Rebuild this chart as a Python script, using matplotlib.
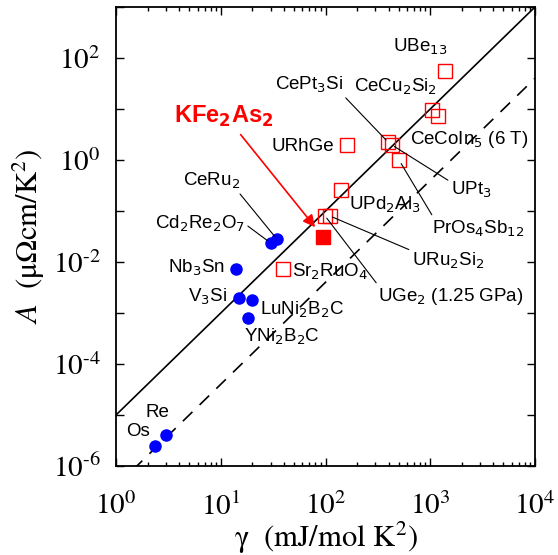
import numpy as np
import matplotlib
matplotlib.use('Agg')
import matplotlib.pyplot as plt
from matplotlib.ticker import LogLocator, FuncFormatter, NullLocator, NullFormatter

plt.rcParams['mathtext.fontset'] = 'stix'
plt.rcParams['font.family'] = 'STIXGeneral'

# --- data (gamma in mJ/mol K^2, A in uOhm cm/K^2) ---
circle_names = ['Os', 'Re', r'V$_3$Si', r'LuNi$_2$B$_2$C', r'YNi$_2$B$_2$C',
                r'Nb$_3$Sn', r'Cd$_2$Re$_2$O$_7$', r'CeRu$_2$']
circle_gamma = [2.36, 3.0, 14.9, 19.9, 18.2, 14.0, 30.0, 34.4]
circle_A = [2.5e-6, 4.1e-6, 2.0e-3, 1.8e-3, 8.0e-4, 7.3e-3, 0.0235, 0.028]

square_names = [r'Sr$_2$RuO$_4$', r'UGe$_2$ (1.25 GPa)', r'URu$_2$Si$_2$',
                r'UPd$_2$Al$_3$', 'URhGe', r'CePt$_3$Si', r'UPt$_3$',
                r'PrOs$_4$Sb$_{12}$', r'CeCu$_2$Si$_2$', r'CeCoIn$_5$ (6 T)',
                r'UBe$_{13}$']
square_gamma = [39, 99, 110, 141, 160, 395, 431, 503, 1040, 1186, 1384]
square_A = [0.0073, 0.08, 0.08, 0.26, 1.97, 2.25, 1.97, 1.0, 9.6, 7.3, 55.6]

kfe_gamma = 94.6
kfe_A = 0.031

# Kadowaki-Woods ratios
kw_solid = 1.0e-5
kw_dashed = 0.4e-6

# label placement (data coords) and leader lines: (relpos, shrinkB) or None
circle_text = [(1.62, 4.7e-6), (2.46, 1.1e-5), (7.39, 2.06e-3), (59.7, 1.15e-3),
               (38.4, 3.4e-4), (5.8, 7.6e-3), (6.34, 0.0556), (8.25, 0.387)]
circle_lead = [None, None, None, None, None, None, ((1.0, 0.5), 3), ((0.95, 0.0), 3)]

square_text = [(110, 0.0064), (1578, 0.00215), (1476, 0.0105), (370, 0.131),
               (61, 1.88), (69.6, 29.6), (2449, 0.258), (2858, 0.0444),
               (471, 27), (2344, 2.47), (798, 164)]
square_lead = [None, ((0.0, 1.0), 2), ((0.0, 1.0), 2), None, None,
               ((1.0, 0.0), 2), ((0.0, 0.9), 2), ((0.0, 1.2), 3),
               None, None, None]

fig = plt.figure(figsize=(5.58, 5.55), dpi=100)
ax = fig.add_axes([116 / 558, 1 - 466 / 555, 419 / 558, 459 / 555])

g = np.logspace(0, 4, 200)
ax.plot(g, kw_solid * g ** 2, '-', color='black', lw=1.2)
ax.plot(g, kw_dashed * g ** 2, '--', color='black', lw=1.2, dashes=(8, 6))

ax.plot(circle_gamma, circle_A, 'o', color='#0000ff', ms=8, mec='#0000ff', zorder=3)
ax.plot(square_gamma, square_A, 's', ms=9.5, mfc='none', mec='#ff0000', mew=1.0, zorder=3)
ax.plot([kfe_gamma], [kfe_A], 's', ms=10, color='#ff0000', zorder=3)

lab_kw = dict(fontsize=13.5, family='Liberation Sans', math_fontfamily='dejavusans',
              ha='center', va='center', zorder=4)


def put_labels(names, xs, ys, places, leads):
    for name, x, y, pos, lead in zip(names, xs, ys, places, leads):
        if lead is None:
            ax.text(pos[0], pos[1], name, **lab_kw)
        else:
            rel, sb = lead
            ax.annotate(name, xy=(x, y), xytext=pos, textcoords='data',
                        arrowprops=dict(arrowstyle='-', color='black', lw=0.8,
                                        relpos=rel, shrinkA=0, shrinkB=sb),
                        **lab_kw)


put_labels(circle_names, circle_gamma, circle_A, circle_text, circle_lead)
put_labels(square_names, square_gamma, square_A, square_text, square_lead)

ax.annotate(r'KFe$_\mathbf{2}$As$_\mathbf{2}$', xy=(kfe_gamma, kfe_A), xytext=(10.7, 7.3),
            textcoords='data', color='#ff0000', fontsize=17, fontweight='bold',
            family='Liberation Sans', math_fontfamily='dejavusans',
            ha='center', va='center',
            arrowprops=dict(arrowstyle='-|>', color='#ff0000', lw=1.2,
                            mutation_scale=18, relpos=(0.62, 0.0),
                            shrinkA=3, shrinkB=9))

ax.set_xscale('log')
ax.set_yscale('log')
ax.set_xlim(1, 1e4)
ax.set_ylim(1e-6, 1e3)


def pow_label(e):
    if e < 0:
        return r'$10^{\text{-}%d}$' % (-e)
    return r'$10^{%d}$' % e


ax.xaxis.set_major_locator(LogLocator(base=10, numticks=10))
ax.xaxis.set_minor_locator(LogLocator(base=10, subs=np.arange(2, 10), numticks=20))
ax.xaxis.set_minor_formatter(NullFormatter())
ax.xaxis.set_major_formatter(FuncFormatter(lambda v, p: pow_label(int(round(np.log10(v))))))

ax.yaxis.set_major_locator(LogLocator(base=10, numticks=20))
ax.yaxis.set_minor_locator(NullLocator())


def yfmt(v, p):
    e = int(round(np.log10(v)))
    return pow_label(e) if e % 2 == 0 else ''


ax.yaxis.set_major_formatter(FuncFormatter(yfmt))

ax.tick_params(which='both', direction='in', top=True, right=True, width=1.0)
ax.tick_params(which='major', length=6)
ax.tick_params(which='minor', length=3)
ax.tick_params(axis='x', which='major', labelsize=21, pad=19)
ax.tick_params(axis='y', which='major', labelsize=21, pad=11)
for s in ax.spines.values():
    s.set_linewidth(1.3)

ax.set_xlabel('γ  (mJ/mol K$^2$)', fontsize=22, labelpad=-1)
ax.set_ylabel(r'$A$  (μΩcm/K$^2$)', fontsize=22, labelpad=4)

fig.savefig('out.png', dpi=100)
